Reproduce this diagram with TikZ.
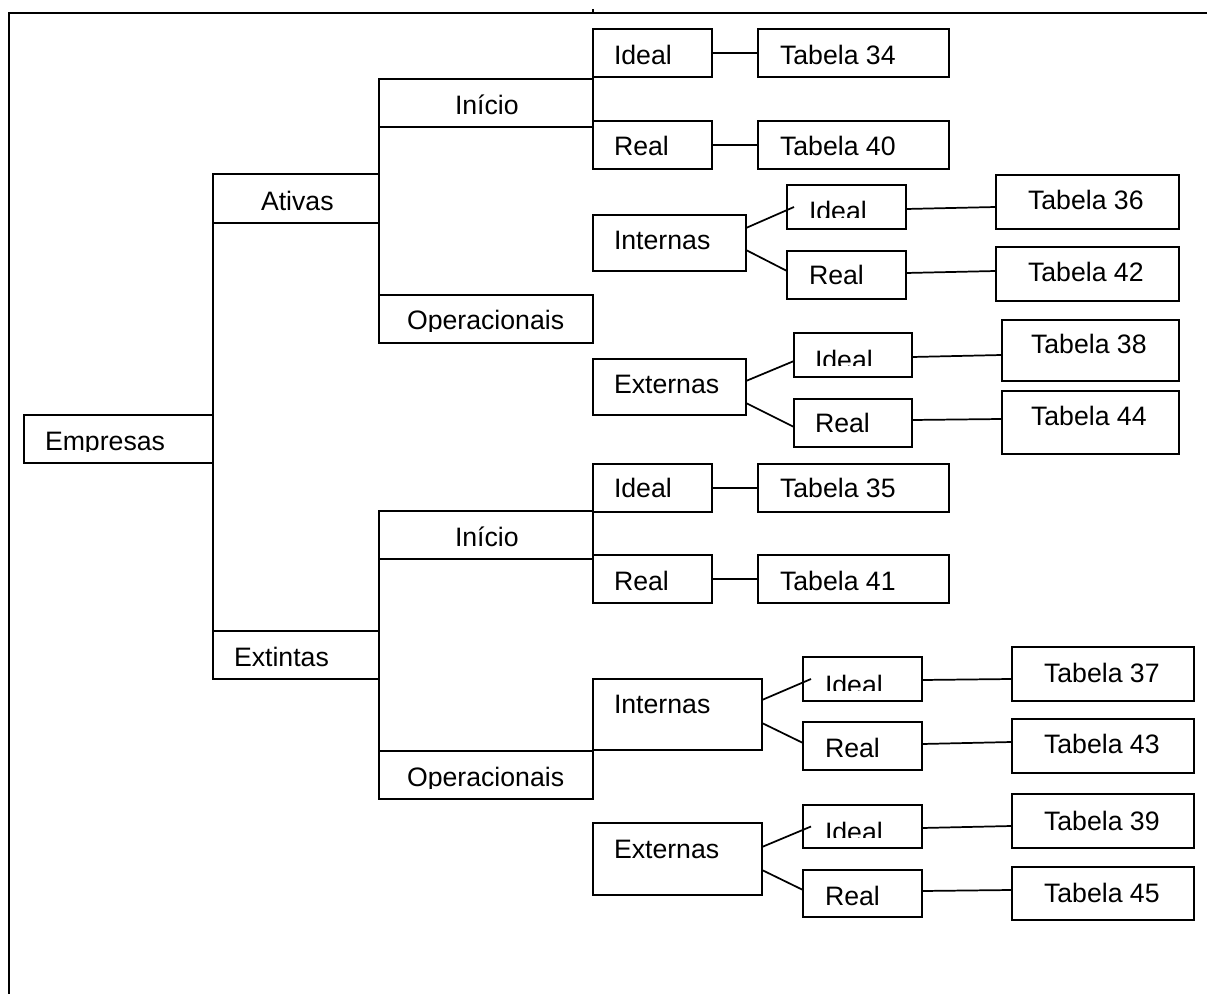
\documentclass[tikz,border=0pt]{standalone}
\usepackage{fontspec}
\setmainfont{Liberation Sans}
\usetikzlibrary{calc}

% boxes are given in pixel units: x to the right, y downwards
\tikzset{
  wb/.style={draw, rectangle, inner sep=0pt, outer sep=0pt, line width=1.3pt},
  wt/.style={anchor=base west, inner sep=0pt, outer sep=0pt,
             font=\fontsize{20pt}{24pt}\selectfont},
  ln/.style={line width=1.3pt}
}

% \wbox{name}{x1}{y1}{x2}{y2}{text x}{baseline y}{text}
% the label is clipped to the inner area of its box, as in a text frame
\newcommand\wbox[8]{%
  \node[wb, minimum width={(#4-#2)*0.75pt}, minimum height={(#5-#3)*0.75pt}]
    (#1) at ({(#2+#4)/2},{(#3+#5)/2}) {};
  \begin{scope}
    \clip (#2,#3) rectangle (#4,{#5-11});
    \node[wt] (#1-t) at (#6,#7) {#8};
  \end{scope}}

\begin{document}
\begin{tikzpicture}[x=0.75pt, y=-0.75pt]
\useasboundingbox (0,0) rectangle (1207,994);

% page frame
\coordinate (fbl) at (9,994);
\coordinate (ftl) at (9,13);
\coordinate (ftr) at (1207,13);
\coordinate (tka) at (593,9);
\coordinate (tkb) at (593,13);
\draw[ln] (fbl) -- (ftl) -- (ftr);
\draw[line width=1pt] (tka) -- (tkb);

% root and first level
\wbox{emp}{24}{415}{213}{463}{45}{451}{Empresas}
\wbox{atv}{213}{174}{379}{223}{261}{211}{Ativas}
\wbox{ext}{213}{631}{379}{679}{234}{666}{Extintas}
\draw[ln] (atv.south west) -- (ext.north west);

% Ativas
\wbox{ini1}{379}{79}{593}{127}{455}{115}{Início}
\wbox{op1}{379}{295}{593}{343}{407}{330}{Operacionais}
\draw[ln] (ini1.south west) -- (op1.north west);

\wbox{id1}{593}{29}{712}{77}{614}{65}{Ideal}
\wbox{re1}{593}{121}{712}{169}{614}{156}{Real}
\wbox{t34}{758}{29}{949}{77}{780}{65}{Tabela 34}
\wbox{t40}{758}{121}{949}{169}{780}{156}{Tabela 40}
\draw[ln] (id1.south west) -- (re1.north west);
\draw[ln] (id1.east) -- (t34.west);
\draw[ln] (re1.east) -- (t40.west);

\wbox{int1}{593}{215}{746}{271}{614}{250}{Internas}
\wbox{id2}{787}{185}{906}{229}{809}{221}{Ideal}
\wbox{re2}{787}{251}{906}{299}{809}{285}{Real}
\wbox{t36}{996}{175}{1179}{229}{1028}{210}{Tabela 36}
\wbox{t42}{996}{247}{1179}{301}{1028}{282}{Tabela 42}
\draw[ln] ([shift={(0,-15)}]int1.east) -- ([shift={(7,0)}]id2.west);
\draw[ln] ([shift={(0,7)}]int1.east) -- ([shift={(0,-4)}]re2.west);
\draw[ln] ([shift={(0,2)}]id2.east) -- ([shift={(0,5)}]t36.west);
\draw[ln] ([shift={(0,-2)}]re2.east) -- ([shift={(0,-3)}]t42.west);

\wbox{ext1}{593}{359}{746}{415}{614}{394}{Externas}
\wbox{id3}{794}{333}{912}{377}{815}{370}{Ideal}
\wbox{re3}{794}{399}{912}{447}{815}{433}{Real}
\wbox{t38}{1002}{320}{1179}{381}{1031}{354}{Tabela 38}
\wbox{t44}{1002}{391}{1179}{454}{1031}{426}{Tabela 44}
\draw[ln] ([shift={(0,-6)}]ext1.east) -- ([shift={(0,6)}]id3.west);
\draw[ln] ([shift={(0,16)}]ext1.east) -- ([shift={(0,4)}]re3.west);
\draw[ln] ([shift={(0,2)}]id3.east) -- ([shift={(0,4.5)}]t38.west);
\draw[ln] ([shift={(0,-3)}]re3.east) -- ([shift={(0,-3.5)}]t44.west);

% Extintas
\wbox{ini2}{379}{511}{593}{559}{455}{547}{Início}
\wbox{op2}{379}{751}{593}{799}{407}{786}{Operacionais}
\draw[ln] (ini2.south west) -- (op2.north west);

\wbox{id4}{593}{464}{712}{512}{614}{498}{Ideal}
\wbox{re4}{593}{555}{712}{603}{614}{590}{Real}
\wbox{t35}{758}{464}{949}{512}{780}{498}{Tabela 35}
\wbox{t41}{758}{555}{949}{603}{780}{590}{Tabela 41}
\draw[ln] (id4.south west) -- (re4.north west);
\draw[ln] (id4.east) -- (t35.west);
\draw[ln] (re4.east) -- (t41.west);

\wbox{int2}{593}{679}{762}{750}{614}{713}{Internas}
\wbox{id5}{803}{657}{922}{701}{825}{694}{Ideal}
\wbox{re5}{803}{722}{922}{770}{825}{757}{Real}
\wbox{t37}{1012}{647}{1194}{701}{1044}{682}{Tabela 37}
\wbox{t43}{1012}{719}{1194}{773}{1044}{753}{Tabela 43}
\draw[ln] ([shift={(0,-14.5)}]int2.east) -- ([shift={(8,0)}]id5.west);
\draw[ln] ([shift={(0,8.5)}]int2.east) -- ([shift={(0,-3)}]re5.west);
\draw[ln] ([shift={(0,1)}]id5.east) -- ([shift={(0,5)}]t37.west);
\draw[ln] ([shift={(0,-2)}]re5.east) -- ([shift={(0,-4)}]t43.west);

\wbox{ext2}{593}{823}{762}{895}{614}{858}{Externas}
\wbox{id6}{803}{805}{922}{848}{825}{841}{Ideal}
\wbox{re6}{803}{870}{922}{917}{825}{905}{Real}
\wbox{t39}{1012}{794}{1194}{848}{1044}{830}{Tabela 39}
\wbox{t45}{1012}{867}{1194}{920}{1044}{902}{Tabela 45}
\draw[ln] ([shift={(0,-12)}]ext2.east) -- ([shift={(8,0)}]id6.west);
\draw[ln] ([shift={(0,11)}]ext2.east) -- ([shift={(0,-3.5)}]re6.west);
\draw[ln] ([shift={(0,1.5)}]id6.east) -- ([shift={(0,5)}]t39.west);
\draw[ln] ([shift={(0,-2.5)}]re6.east) -- ([shift={(0,-3.5)}]t45.west);
\end{tikzpicture}
\end{document}
